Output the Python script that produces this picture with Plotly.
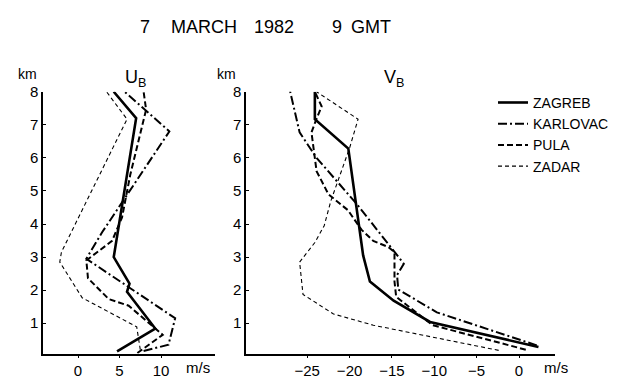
import plotly.graph_objects as go

# ---------------- data ----------------
stations = ["ZAGREB", "KARLOVAC", "PULA", "ZADAR"]

# U_B component (m/s) vs height (km)
zagreb_u_z = [0.15, 0.84, 1.95, 2.2, 3.0, 7.2, 8.0]
zagreb_u = [4.7, 9.3, 5.9, 6.2, 4.3, 7.0, 4.3]

karlovac_u_z = [0.16, 0.35, 1.15, 2.95, 3.75, 6.8, 7.45, 8.07]
karlovac_u = [7.9, 10.9, 11.7, 1.0, 2.9, 11.0, 8.1, 5.3]

pula_u_z = [0.1, 0.65, 1.53, 1.73, 2.36, 2.9, 3.49, 4.2, 5.5, 7.46, 8.0]
pula_u = [7.15, 10.2, 6.1, 3.7, 1.2, 1.0, 4.1, 5.3, 6.3, 8.2, 7.9]

zadar_u_z = [0.2, 0.89, 1.77, 2.85, 3.15, 7.17, 8.08]
zadar_u = [7.5, 7.07, 0.5, -2.2, -2.0, 5.9, 3.2]

# V_B component (m/s) vs height (km)
zagreb_v_z = [0.28, 0.65, 1.04, 1.68, 2.26, 3.05, 6.28, 7.17, 8.0]
zagreb_v = [2.3, -4.0, -10.5, -14.8, -17.6, -18.4, -20.15, -24.1, -24.1]

karlovac_v_z = [0.33, 1.33, 2.02, 2.46, 2.8, 3.44, 4.62, 6.0, 6.77, 8.1]
karlovac_v = [2.1, -9.7, -14.25, -14.4, -13.6, -15.6, -19.2, -23.9, -25.9, -27.1]

pula_v_z = [0.2, 0.6, 0.94, 1.8, 2.26, 3.15, 3.3, 3.49, 3.83, 4.42, 4.9, 5.6, 6.77, 7.12, 7.56, 8.0]
pula_v = [0.8, -5.0, -10.2, -14.5, -14.7, -14.7, -15.4, -17.2, -18.6, -20.2, -22.5, -23.9, -24.5, -24.0, -23.3, -24.1]

zadar_v_z = [0.18, 0.94, 1.28, 1.87, 2.85, 3.44, 3.95, 4.71, 6.3, 7.17, 8.0]
zadar_v = [-2.4, -17.2, -21.9, -25.5, -25.9, -24.1, -23.0, -22.2, -20.0, -19.0, -23.9]

u_ticks = [0, 5, 10]
v_ticks = [-25, -20, -15, -10, -5, 0]
km_ticks = [1, 2, 3, 4, 5, 6, 7, 8]

title_parts = ["7", "MARCH", "1982", "9", "GMT"]

# ---------------- styles ----------------
styles = {
    "ZAGREB": dict(color="black", width=2.6, dash="solid"),
    "KARLOVAC": dict(color="black", width=2.0, dash="9px,3px,2px,3px"),
    "PULA": dict(color="black", width=2.0, dash="6px,3px"),
    "ZADAR": dict(color="black", width=1.1, dash="4px,3px"),
}

u_data = {
    "ZAGREB": (zagreb_u, zagreb_u_z),
    "KARLOVAC": (karlovac_u, karlovac_u_z),
    "PULA": (pula_u, pula_u_z),
    "ZADAR": (zadar_u, zadar_u_z),
}
v_data = {
    "ZAGREB": (zagreb_v, zagreb_v_z),
    "KARLOVAC": (karlovac_v, karlovac_v_z),
    "PULA": (pula_v, pula_v_z),
    "ZADAR": (zadar_v, zadar_v_z),
}

FONT = "Liberation Sans, Arial, sans-serif"
W, H = 628, 379

fig = go.Figure()
for s in stations:
    x, y = u_data[s]
    fig.add_trace(go.Scatter(x=x, y=y, mode="lines", line=styles[s], name=s,
                             showlegend=False, xaxis="x", yaxis="y"))
for s in stations:
    x, y = v_data[s]
    fig.add_trace(go.Scatter(x=x, y=y, mode="lines", line=styles[s], name=s,
                             showlegend=True, xaxis="x2", yaxis="y2"))

def px_x(p):
    return p / W

def px_y(p):
    return 1 - p / H

ydom = [px_y(354), px_y(85)]
yrange = [0.08, 8.0]

common_x = dict(showline=True, linecolor="black", linewidth=1.5, ticks="outside",
                ticklen=3, tickcolor="black", showgrid=False, zeroline=False,
                tickfont=dict(family=FONT, size=15, color="black"))
common_y = dict(showline=True, linecolor="black", linewidth=1.5, ticks="inside",
                ticklen=3, tickcolor="black", showgrid=False, zeroline=False,
                tickvals=km_ticks, range=yrange, domain=ydom,
                tickfont=dict(family=FONT, size=15, color="black"))

fig.update_layout(
    width=W, height=H,
    margin=dict(l=0, r=0, t=0, b=0),
    paper_bgcolor="white", plot_bgcolor="white",
    xaxis=dict(common_x, domain=[px_x(43), px_x(215)], range=[-4.22, 16.5],
               tickvals=u_ticks, anchor="y"),
    yaxis=dict(common_y, anchor="x"),
    xaxis2=dict(common_x, domain=[px_x(246), px_x(555)], range=[-32.23, 4.25],
                tickvals=v_ticks, anchor="y2"),
    yaxis2=dict(common_y, anchor="x2"),
    legend=dict(x=px_x(493), y=px_y(80), xanchor="left", yanchor="top",
                font=dict(family=FONT, size=14, color="black"),
                bgcolor="rgba(0,0,0,0)", itemwidth=30, tracegroupgap=0),
    showlegend=True,
)

ann = []
title_x = [145, 204, 274, 337, 371]
for t, xp in zip(title_parts, title_x):
    ann.append(dict(text=t, x=px_x(xp), y=px_y(19), xref="paper", yref="paper",
                    showarrow=False, xanchor="center", yanchor="middle",
                    font=dict(family=FONT, size=18, color="black")))
for txt, xp, yp, sz in [("km", 27, 67, 14), ("km", 227, 67, 14),
                        ("U<sub>B</sub>", 135, 71, 18), ("V<sub>B</sub>", 394, 71, 18),
                        ("m/s", 198, 368, 15), ("m/s", 556, 368, 15)]:
    ann.append(dict(text=txt, x=px_x(xp), y=px_y(yp), xref="paper", yref="paper",
                    showarrow=False, xanchor="center", yanchor="middle",
                    font=dict(family=FONT, size=sz, color="black")))
fig.update_layout(annotations=ann)

fig.write_html("out.html", config={"displayModeBar": False},
               post_script="document.body.style.margin='0px';document.body.style.overflow='hidden';")
